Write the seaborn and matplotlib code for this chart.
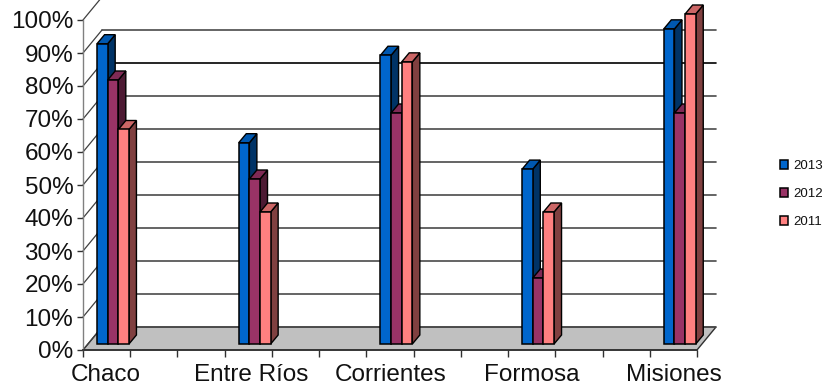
import matplotlib
matplotlib.use("Agg")
import matplotlib.pyplot as plt
import numpy as np
import pandas as pd
import seaborn as sns
from matplotlib.patches import Polygon
from matplotlib.transforms import Affine2D
from matplotlib.ticker import PercentFormatter

provinces = ["Chaco", "Entre Ríos", "Corrientes", "Formosa", "Misiones"]
years = ["2013", "2012", "2011"]
values_2013 = [91, 61, 87.5, 53, 95.5]
values_2012 = [80, 50, 70, 20, 70]
values_2011 = [65, 40, 85.5, 40, 100]
front_colors = ["#0066CC", "#993366", "#FF8080"]
top_colors = ["#0058B0", "#7F2A55", "#CC6666"]
side_colors = ["#003366", "#4D1A33", "#804040"]
label_nudges = [-7, -4, -6, -6, -6]

sns.set_theme(style="white")
plt.rcParams["font.family"] = ["Liberation Sans", "DejaVu Sans"]
W, H = 825, 387
fig = plt.figure(figsize=(W / 100, H / 100), dpi=100)
ax = fig.add_axes([83 / W, 1 - 350 / H, 614 / W, 330 / H])
ax.patch.set_alpha(0)

df = pd.DataFrame({
    "province": provinces * 3,
    "year": [y for y in years for _ in provinces],
    "value": values_2013 + values_2012 + values_2011,
})
sns.barplot(data=df, x="province", y="value", hue="year", order=provinces,
            hue_order=years, palette=front_colors, saturation=1, width=0.225,
            gap=0, edgecolor="black", linewidth=1.1, legend=True, ax=ax, zorder=5)

x0 = -(113 - 83) / 141.7
x1 = x0 + 614 / 141.7
ax.set_xlim(x0, x1)
ax.set_ylim(0, 100)

# Oblique projection: the walls sit behind the front plane, bars half way in
wall_shift = Affine2D().translate(19, 23)
bar_base = Affine2D().translate(0, 6)
depth = np.array([7.5, 9.0])
to_wall = ax.transData + wall_shift
to_bar = ax.transData + bar_base

# Floor
floor_px = ax.transData.transform([(x0, 0), (x1, 0)])
floor = Polygon([floor_px[0], floor_px[0] + (19, 23), floor_px[1] + (19, 23), floor_px[1]],
                closed=True, transform=None, facecolor="#C0C0C0",
                edgecolor="#303030", linewidth=1.0, zorder=1)
fig.add_artist(floor)
floor.set_zorder(-1)
ax.set_zorder(2)

# Back wall gridlines and the diagonals on the side wall
for level in range(0, 100, 10):
    shade = "black" if level == 80 else "#4A4A4A"
    ax.plot([x0, x1], [level, level], transform=to_wall, color=shade,
            lw=1.2, zorder=2, clip_on=False)
for level in range(0, 101, 10):
    a = ax.transData.transform((x0, level))
    ax.plot([a[0], a[0] + 19], [a[1], a[1] + 23], transform=None, color="#404040",
            lw=0.9, zorder=2, clip_on=False)

# Give each bar its top and side faces, derived from its own rectangle
bars = [p for c in ax.containers for p in c]
for i, bar in enumerate(bars):
    series = i // len(provinces)
    z = 5 + series
    bx, by, bw, bh = bar.get_x(), bar.get_y(), bar.get_width(), bar.get_height()
    ll = to_bar.transform((bx, by))
    ur = to_bar.transform((bx + bw, by + bh))
    ul = np.array([ll[0], ur[1]])
    lr = np.array([ur[0], ll[1]])
    side = Polygon([lr, ur, ur + depth, lr + depth], transform=None,
                   facecolor=side_colors[series], edgecolor="black", lw=1.0, zorder=z)
    top = Polygon([ul, ur, ur + depth, ul + depth], transform=None,
                  facecolor=top_colors[series], edgecolor="black", lw=1.0, zorder=z)
    ax.add_patch(side)
    ax.add_patch(top)
    side.set_clip_on(False)
    top.set_clip_on(False)
    side.set_transform(Affine2D())
    top.set_transform(Affine2D())
    bar.set_transform(to_bar)
    bar.set_clip_on(False)
    bar.set_zorder(z + 0.1)

sns.despine(ax=ax, top=True, right=True)
ax.spines["left"].set_color("#808080")
ax.spines["left"].set_linewidth(1.0)
ax.spines["bottom"].set_color("#303030")
ax.spines["bottom"].set_linewidth(1.2)

ax.yaxis.set_major_formatter(PercentFormatter(decimals=0))
ax.set_yticks(range(0, 101, 10))
ax.tick_params(axis="y", length=4, width=1, color="#303030", pad=3,
               labelsize=17.5, labelcolor="#111111", left=True)
ax.set_xticks(np.linspace(x0, x1, 14))
ax.set_xticklabels([])
ax.tick_params(axis="x", length=5, width=1, color="#303030", bottom=True)
ax.set_xlabel("")
ax.set_ylabel("")

for i, name in enumerate(provinces):
    ax.annotate(name, (i, 0), xytext=(label_nudges[i] * 0.72, -10), textcoords="offset points",
                xycoords=ax.get_xaxis_transform(), ha="center", va="top",
                fontsize=17.5, color="#111111", annotation_clip=False)

handles, labels = ax.get_legend_handles_labels()
ax.legend(handles, labels, loc="center left", bbox_to_anchor=(780 / W, 1 - 194 / H),
          bbox_transform=fig.transFigure, frameon=False, fontsize=9.5,
          handlelength=0.62, handleheight=0.62, handletextpad=0.38, labelspacing=1.22,
          labelcolor="#111111", borderpad=0, borderaxespad=0)

fig.savefig("out.png", dpi=100)
